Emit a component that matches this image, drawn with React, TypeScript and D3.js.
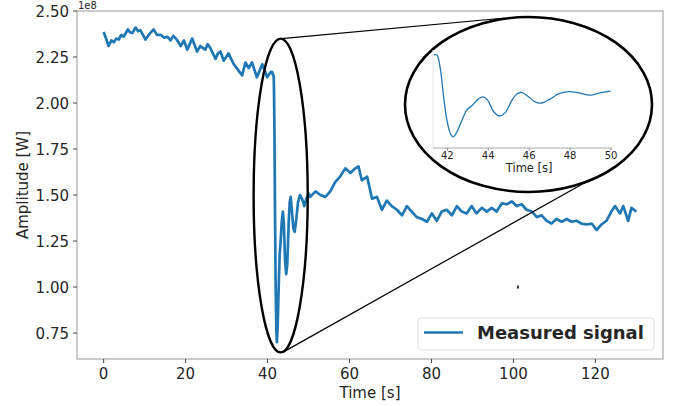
import React from "react";
import * as d3 from "d3";

// ---- data (amplitude in units of 1e8 W) ----
const timeS: number[] = [
  0, 0.6, 1.2, 1.9, 2.5, 3.1, 3.7, 4.3, 4.9, 5.9, 6.4, 7.0, 7.8, 8.4, 9.0, 9.6,
  10.2, 11.0, 12.2, 13.0, 14.0, 14.8, 15.6, 16.3, 17.0, 18.0, 18.8, 19.6, 20.4,
  21.0, 21.6, 22.8, 23.6, 24.2, 24.8, 25.4, 26.0, 27.3, 27.9, 28.5, 29.3, 30.5,
  31.1, 31.8, 32.8, 33.8, 34.6, 35.4, 36.2, 36.8, 37.4, 38.7, 39.3, 39.9, 40.8,
  41.1, 41.33, 41.5, 41.58, 41.69, 41.82, 41.98, 42.15, 42.28, 42.47, 42.72,
  42.96, 43.2, 43.45, 43.74, 43.97, 44.26, 44.55, 44.83, 45.16, 45.4, 45.64,
  45.97, 46.29, 46.62, 47.02, 47.43, 47.92, 48.41, 48.98, 49.46, 49.98, 50.4,
  51.7, 52.9, 54.1, 55.3, 56.5, 57.7, 59.0, 60.2, 61.4, 62.2, 63.0, 64.3, 65.5,
  66.7, 67.9, 69.1, 70.3, 71.6, 72.8, 74.0, 75.2, 76.4, 77.7, 78.9, 80.1, 81.3,
  82.5, 83.7, 85.0, 86.2, 87.4, 88.6, 89.8, 91.0, 92.3, 93.5, 94.7, 95.9, 97.2,
  98.4, 99.6, 100.8, 102.0, 103.2, 104.5, 105.7, 106.9, 108.1, 109.3, 110.5,
  111.8, 113.0, 114.2, 115.4, 116.6, 117.9, 119.1, 120.3, 121.5, 122.7, 123.9,
  124.8, 126.0, 126.8, 128.0, 128.8, 130.0,
];
const amplitude: number[] = [
  2.386, 2.35, 2.31, 2.34, 2.33, 2.35, 2.345, 2.37, 2.36, 2.4, 2.385, 2.38,
  2.41, 2.39, 2.395, 2.37, 2.345, 2.37, 2.4, 2.37, 2.37, 2.355, 2.36, 2.34,
  2.365, 2.34, 2.31, 2.34, 2.29, 2.32, 2.35, 2.28, 2.31, 2.3, 2.29, 2.32, 2.3,
  2.24, 2.27, 2.28, 2.23, 2.27, 2.24, 2.21, 2.18, 2.15, 2.22, 2.19, 2.22, 2.18,
  2.14, 2.21, 2.18, 2.14, 2.17, 2.17, 2.15, 2.15, 2.06, 1.83, 1.41, 1.0, 0.76,
  0.7, 0.79, 1.0, 1.18, 1.25, 1.35, 1.41, 1.35, 1.15, 1.07, 1.13, 1.35, 1.46,
  1.49, 1.41, 1.32, 1.3, 1.37, 1.46, 1.5, 1.48, 1.44, 1.48, 1.51, 1.49, 1.52,
  1.5, 1.49, 1.52, 1.57, 1.6, 1.645, 1.62, 1.645, 1.655, 1.58, 1.6, 1.48, 1.49,
  1.42, 1.47, 1.44, 1.42, 1.39, 1.44, 1.41, 1.38, 1.37, 1.355, 1.4, 1.36, 1.41,
  1.42, 1.39, 1.44, 1.41, 1.4, 1.44, 1.4, 1.43, 1.41, 1.43, 1.41, 1.455, 1.45,
  1.465, 1.44, 1.45, 1.42, 1.41, 1.38, 1.39, 1.36, 1.345, 1.37, 1.355, 1.37,
  1.355, 1.36, 1.345, 1.34, 1.345, 1.31, 1.34, 1.36, 1.41, 1.44, 1.4, 1.44,
  1.36, 1.43, 1.41,
];
const xTicks: number[] = [0, 20, 40, 60, 80, 100, 120];
const yTicks: number[] = [0.75, 1.0, 1.25, 1.5, 1.75, 2.0, 2.25, 2.5];
const insetTicks: number[] = [42, 44, 46, 48, 50];
const insetRange: number[] = [41.3, 50];
// zoom ellipse in data units: [t0, t1, v0, v1]
const zoomBox: number[] = [36.6, 49.8, 0.645, 2.35];
const strayPoint: number[] = [101.1, 1.0];
const legendLabel = "Measured signal";

const W = 678;
const H = 406;
const FONT = "'DejaVu Sans', sans-serif";
const BLUE = "#1f77b4";

export default function App() {
  const x = d3.scaleLinear().domain([-6.5, 136.5]).range([77, 663]);
  const y = d3.scaleLinear().domain([0.609, 2.5]).range([359, 11]);

  const pts = timeS.map((t, i) => [t, amplitude[i]] as [number, number]);
  const mainLine = d3
    .line<[number, number]>()
    .x((d) => x(d[0]))
    .y((d) => y(d[1]))(pts);

  const ix = d3.scaleLinear().domain(insetRange as [number, number]).range([433, 611]);
  const iy = d3.scaleLinear().domain([0.504, 2.238]).range([148, 50]);
  const insetPts = pts.filter((d) => d[0] >= insetRange[0] - 1e-6 && d[0] <= insetRange[1] + 0.01);
  const insetLine = d3
    .line<[number, number]>()
    .curve(d3.curveCatmullRom.alpha(0.5))
    .x((d) => ix(d[0]))
    .y((d) => iy(d[1]))(insetPts);

  const ecx = (x(zoomBox[0]) + x(zoomBox[1])) / 2;
  const ecy = (y(zoomBox[2]) + y(zoomBox[3])) / 2;
  const erx = (x(zoomBox[1]) - x(zoomBox[0])) / 2;
  const ery = (y(zoomBox[2]) - y(zoomBox[3])) / 2;

  // big ellipse
  const bcx = 528.5, bcy = 104.5, brx = 123.5, bry = 87.5;

  const spine = "#a8a8a8";
  const txt = "#262626";

  return (
    <svg
      width={W}
      height={H}
      style={{ position: "absolute", left: 0, top: 0, background: "#fff" }}
      fontFamily={FONT}
    >
      <rect x={0} y={0} width={W} height={H} fill="#fff" />
      <defs>
        <clipPath id="plotClip">
          <rect x={77} y={11} width={586} height={348} />
        </clipPath>
      </defs>

      {/* main line */}
      <path d={mainLine || ""} fill="none" stroke={BLUE} strokeWidth={2.7} strokeLinejoin="round" clipPath="url(#plotClip)" />

      {/* stray point */}
      <rect x={x(strayPoint[0]) - 1} y={y(strayPoint[1]) - 1.5} width={2} height={3} fill="#333" />

      {/* spines */}
      <rect x={77} y={11} width={586} height={348} fill="none" stroke={spine} strokeWidth={1.2} />

      {/* x ticks */}
      {xTicks.map((t) => (
        <g key={"x" + t}>
          <line x1={x(t)} x2={x(t)} y1={359} y2={363} stroke="#444" strokeWidth={1} />
          <text x={x(t)} y={379} textAnchor="middle" fontSize={15} fill={txt}>
            {t}
          </text>
        </g>
      ))}
      {/* y ticks */}
      {yTicks.map((v) => (
        <g key={"y" + v}>
          <line x1={73} x2={77} y1={y(v)} y2={y(v)} stroke="#444" strokeWidth={1} />
          <text x={69} y={y(v) + 5.5} textAnchor="end" fontSize={15} fill={txt}>
            {v.toFixed(2)}
          </text>
        </g>
      ))}
      <text x={78} y={9} fontSize={10} fill={txt}>1e8</text>

      <text x={370} y={398} textAnchor="middle" fontSize={15} fill={txt}>
        Time [s]
      </text>
      <text transform={`translate(28,185) rotate(-90)`} textAnchor="middle" fontSize={15} fill={txt}>
        Amplitude [W]
      </text>

      {/* connecting lines */}
      <line x1={ecx + 1} y1={y(zoomBox[3])} x2={505} y2={18} stroke="#000" strokeWidth={1.2} />
      <line x1={ecx + 2} y1={y(zoomBox[2])} x2={586} y2={182} stroke="#000" strokeWidth={1.2} />

      {/* zoom ellipse */}
      <ellipse cx={ecx} cy={ecy} rx={erx} ry={ery} fill="none" stroke="#000" strokeWidth={2.4} />

      {/* big inset ellipse */}
      <ellipse cx={bcx} cy={bcy} rx={brx} ry={bry} fill="#fff" stroke="#000" strokeWidth={2.6} />

      {/* inset axes */}
      <line x1={433} x2={433} y1={50} y2={148} stroke="#e4e4e4" strokeWidth={1} />
      <line x1={433} x2={611.5} y1={148} y2={148} stroke={spine} strokeWidth={1} />
      {insetTicks.map((t) => (
        <g key={"it" + t}>
          <line x1={ix(t)} x2={ix(t)} y1={148} y2={150.5} stroke="#666" strokeWidth={0.8} />
          <text x={ix(t)} y={159} textAnchor="middle" fontSize={10} fill={txt}>
            {t}
          </text>
        </g>
      ))}
      <text x={ix(46)} y={171.5} textAnchor="middle" fontSize={11.5} fill={txt}>
        Time [s]
      </text>
      <path d={insetLine || ""} fill="none" stroke={BLUE} strokeWidth={1.3} />

      {/* legend */}
      <rect x={418} y={318} width={236} height={32} rx={3} fill="#fff" fillOpacity={0.8} stroke="#e0e0e0" strokeWidth={1} />
      <line x1={424} x2={463} y1={332.5} y2={332.5} stroke={BLUE} strokeWidth={2.3} />
      <text x={477} y={339} fontSize={18} fontWeight="bold" fill={txt}>
        {legendLabel}
      </text>
    </svg>
  );
}
